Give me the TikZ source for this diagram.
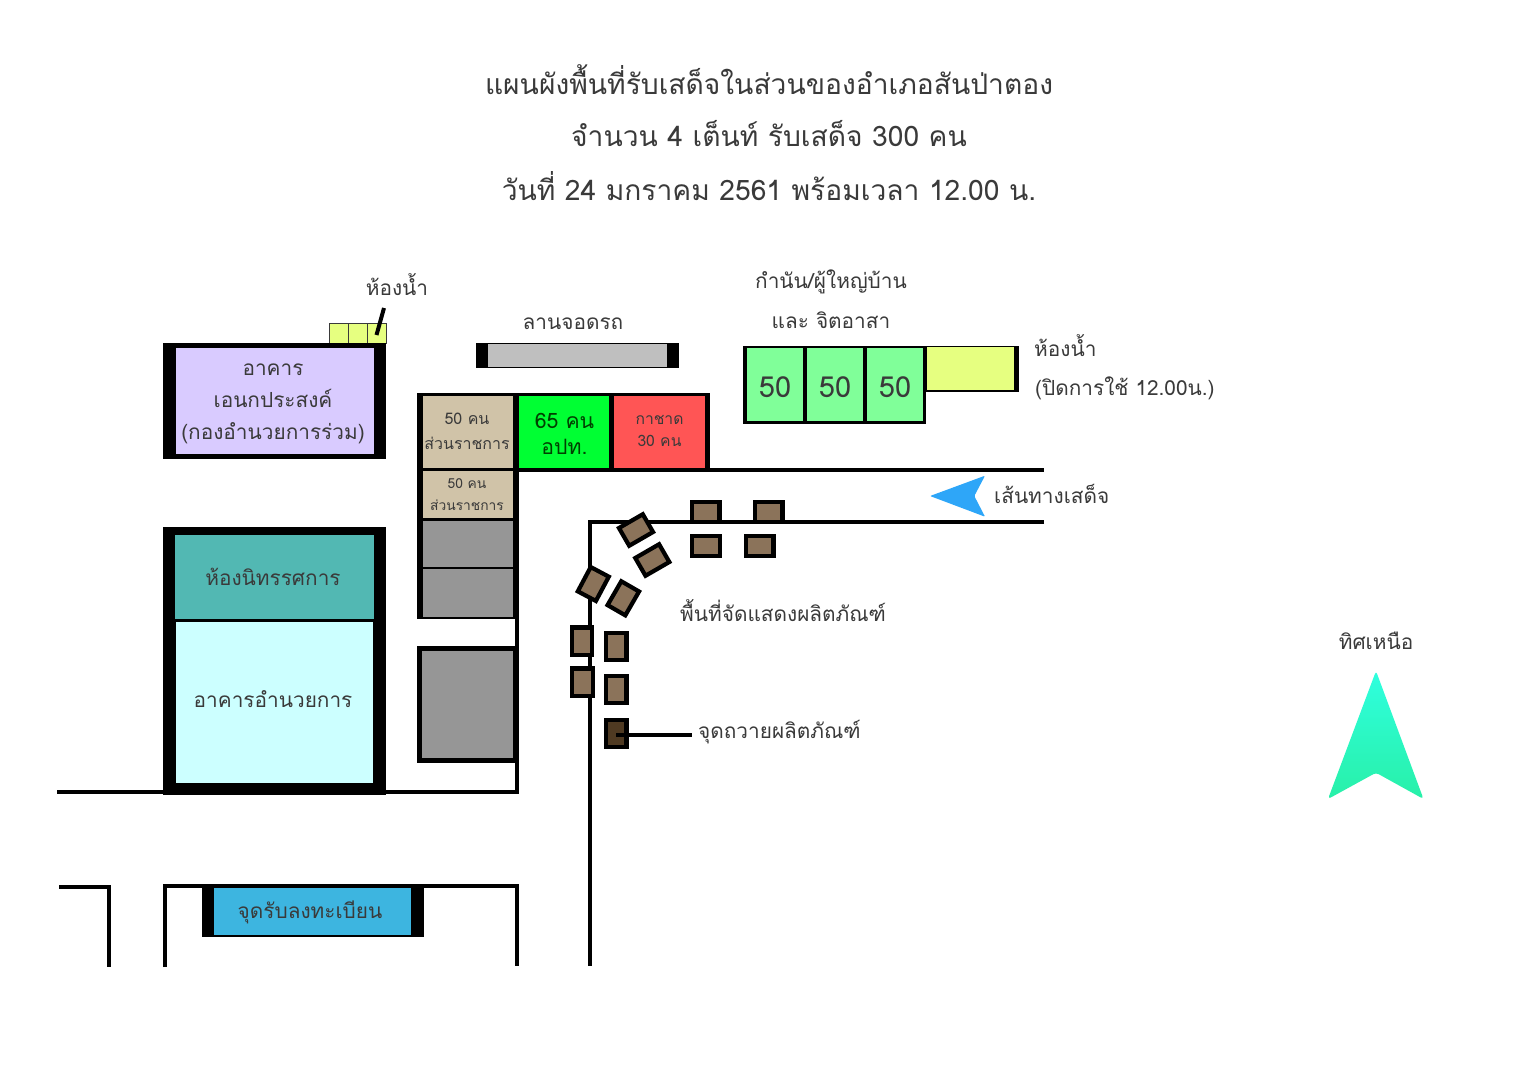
\documentclass[tikz,border=0pt]{standalone}
\usepackage{fontspec}
\setmainfont[Script=Thai]{Loma}
\definecolor{inkgray}{HTML}{3A3A3A}
\definecolor{lavender}{HTML}{D9CBFF}
\definecolor{tealroom}{HTML}{52B8B3}
\definecolor{cyanroom}{HTML}{CCFFFF}
\definecolor{tanroom}{HTML}{D0C3A8}
\definecolor{greenroom}{HTML}{00FF33}
\definecolor{redroom}{HTML}{FF5555}
\definecolor{mintroom}{HTML}{80FF99}
\definecolor{yellowroom}{HTML}{E6FF80}
\definecolor{grayroom}{HTML}{969696}
\definecolor{parkgray}{HTML}{BFBFBF}
\definecolor{standbrown}{HTML}{8B735A}
\definecolor{standdark}{HTML}{4F3A22}
\definecolor{regblue}{HTML}{3DB5E0}
\definecolor{routeblue}{HTML}{2EA6F8}
\definecolor{northtop}{HTML}{2FFFDF}
\definecolor{northbottom}{HTML}{28F0A8}
\tikzset{
    roomtext/.style={inner sep=0pt,align=center,text=inkgray,font=\fontsize{20.8}{32}\selectfont},
    wall/.style={fill=black},
    road/.style={line width=4pt},
    wccell/.style={fill=yellowroom,draw=inkgray,line width=1pt},
    stand/.style={draw=black,line width=4.2pt,fill=standbrown,minimum width=27.5pt,minimum height=20.5pt,inner sep=0pt},
    label/.style={inner sep=0pt,text=inkgray,font=\fontsize{20.8}{26}\selectfont},
    headline/.style={inner sep=0pt,text=inkgray,font=\fontsize{28.2}{34}\selectfont}
}
\begin{document}
\begin{tikzpicture}[x=1pt,y=-1pt]
        \path[use as bounding box,fill=white] (0,0) rectangle (1522,1076);
        %% heading
        \node[headline] (head1) at (769,80) {แผนผังพื้นที่รับเสด็จในส่วนของอำเภอสันป่าตอง};
        \node[headline] (head2) at (769,134) {จำนวน 4 เต็นท์ รับเสด็จ 300 คน};
        \node[headline] (head3) at (769,186) {วันที่ 24 มกราคม 2561 พร้อมเวลา 12.00 น.};
        %% roads
        \draw[road] (57,792.2) -- (517,792.2) -- (517,618);
        \draw[road] (709,470.3) -- (1044,470.3);
        \draw[road] (1044,522.2) -- (590.3,522.2) -- (590.3,966);
        \draw[road] (59,886.8) -- (109,886.8) -- (109,967);
        \draw[road] (165.3,967) -- (165.3,885.8) -- (517.2,885.8) -- (517.2,966);
        %% multipurpose building
        \draw[wccell] (329,323) rectangle (348,343);
        \draw[wccell] (348,323) rectangle (367,343);
        \draw[wccell] (367,323) rectangle (386,343);
        \fill[wall] (163,343) rectangle (386,459);
        \fill[lavender] (175.6,348) rectangle (374,454);
        \node[roomtext] (hall) at (273,404) {อาคาร\\เอนกประสงค์\\(กองอำนวยการร่วม)};
        \node[label] (wclabel) at (397,285) {ห้องน้ำ};
        \coordinate (wctop) at (384,308);
        \coordinate (wcend) at (376.5,335);
        \draw[line width=4pt] (wctop) -- (wcend);
        %% exhibition and office building
        \fill[wall] (163,526.5) rectangle (386,795);
        \fill[tealroom] (175,534.7) rectangle (374,619);
        \fill[cyanroom] (175.7,622) rectangle (373,783.3);
        \node[roomtext] (expo) at (273,577) {ห้องนิทรรศการ};
        \node[roomtext] (office) at (273,699.5) {อาคารอำนวยการ};
        %% parking
        \fill[wall] (476,343) rectangle (678.5,368);
        \fill[parkgray] (488,344) rectangle (667.4,367);
        \node[label] (parklabel) at (573,324) {ลานจอดรถ};
        %% tents along the road
        \fill[wall] (417,392.7) rectangle (709.5,472);
        \fill[wall] (417,472) rectangle (519,618.7);
        \fill[tanroom] (422.5,396) rectangle (513,468);
        \fill[greenroom] (518.5,396) rectangle (608.5,468);
        \fill[redroom] (614,396) rectangle (705,468);
        \fill[tanroom] (422.5,470.7) rectangle (513,518);
        \fill[grayroom] (422.5,520.7) rectangle (513,566.7);
        \fill[grayroom] (422.5,569) rectangle (513,616.7);
        \fill[wall] (416.7,645.7) rectangle (519,763.3);
        \fill[grayroom] (422,651) rectangle (512.7,757.7);
        \node[roomtext,font=\fontsize{16}{25}\selectfont] (tent1) at (467,431) {50 คน\\ส่วนราชการ};
        \node[roomtext,font=\fontsize{21.2}{26}\selectfont,text=black!75!green] (tent2) at (564.5,434) {65 คน\\อปท.};
        \node[roomtext,font=\fontsize{15.7}{22}\selectfont] (tent3) at (659.5,431) {กาชาด\\30 คน};
        \node[roomtext,font=\fontsize{13.8}{22}\selectfont] (tent4) at (467,494.5) {50 คน\\ส่วนราชการ};
        %% village heads
        \fill[wall] (743.3,345.7) rectangle (925.7,424.3);
        \fill[mintroom] (746.7,348.3) rectangle (803.3,421.3);
        \fill[mintroom] (806.7,348.3) rectangle (863.3,421.3);
        \fill[mintroom] (866.7,348.3) rectangle (922.7,421.3);
        \fill[wall] (925,345.7) rectangle (1019,391.7);
        \fill[yellowroom] (927.3,347.3) rectangle (1014,390);
        \node[roomtext,font=\fontsize{29}{32}\selectfont] (vill1) at (775,387.5) {50};
        \node[roomtext,font=\fontsize{29}{32}\selectfont] (vill2) at (835,387.5) {50};
        \node[roomtext,font=\fontsize{29}{32}\selectfont] (vill3) at (895,387.5) {50};
        \node[label] (villa) at (831,282) {กำนัน/ผู้ใหญ่บ้าน};
        \node[label] (villb) at (831,320) {และ จิตอาสา};
        \node[label,anchor=west] (wcbiga) at (1034,345.5) {ห้องน้ำ};
        \node[label,anchor=west] (wcbigb) at (1035,388) {(ปิดการใช้ 12.00น.)};
        %% royal route
        \fill[routeblue,rounded corners=1pt] (930,496) -- (985,475.7) -- (974.3,496) -- (985,516.7) -- cycle;
        \node[label,anchor=west] (routelabel) at (994,494) {เส้นทางเสด็จ};
        %% product stands
        \node[stand] (standa) at (705.8,512) {};
        \node[stand] (standb) at (768.8,512) {};
        \node[stand] (standc) at (706,546) {};
        \node[stand] (standd) at (759.8,546) {};
        \node[stand,rotate=30] (stande) at (636,530) {};
        \node[stand,rotate=30] (standf) at (652.3,560) {};
        \node[stand,rotate=62] (standg) at (593.3,584) {};
        \node[stand,rotate=60] (standh) at (623.3,598.3) {};
        \node[stand,rotate=90] (standi) at (582,641.2) {};
        \node[stand,rotate=90] (standj) at (616.2,646.5) {};
        \node[stand,rotate=90] (standk) at (582.5,682.3) {};
        \node[stand,rotate=90] (standl) at (616.3,689.5) {};
        \node[stand,rotate=90,fill=standdark] (standm) at (616.3,733.4) {};
        \node[label,anchor=west] (standlabel) at (680,611) {พื้นที่จัดแสดงผลิตภัณฑ์};
        \node[label,anchor=west] (giftlabel) at (698,732) {จุดถวายผลิตภัณฑ์};
        \coordinate (giftend) at (691.7,735);
        \draw[line width=4pt] (standm.center |- giftend) -- (giftend);
        %% registration
        \fill[wall] (201.8,888) rectangle (424.3,936.7);
        \fill[regblue] (214.3,888) rectangle (411.4,934.7);
        \node[roomtext] (reg) at (310,912) {จุดรับลงทะเบียน};
        %% north arrow
        \node[label] (northlabel) at (1376,641) {ทิศเหนือ};
        \path[rounded corners=3pt,top color=northtop,bottom color=northbottom] (1376,671) -- (1423.5,799) -- (1376,772.7) -- (1328,799) -- cycle;
    \end{tikzpicture}
\end{document}
